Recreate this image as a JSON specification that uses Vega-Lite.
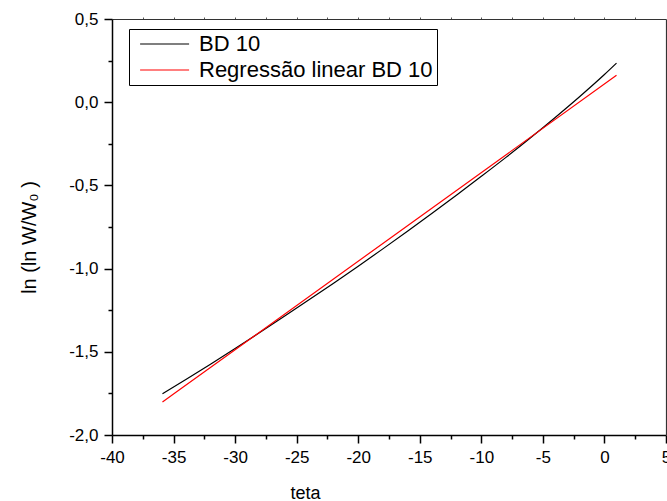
{
  "$schema": "https://vega.github.io/schema/vega-lite/v6.json",
  "width": 554,
  "height": 416,
  "autosize": "none",
  "padding": {"left": 112, "top": 19, "right": 1, "bottom": 66},
  "background": "white",
  "config": {
    "view": {"stroke": null},
    "font": "Liberation Sans",
    "axis": {
      "grid": false,
      "domainColor": "#000000",
      "tickColor": "#000000",
      "labelColor": "#000000",
      "titleColor": "#000000",
      "labelFont": "Liberation Sans",
      "titleFont": "Liberation Sans",
      "labelFontSize": 17,
      "titleFontSize": 18,
      "titleFontWeight": "normal"
    },
    "legend": {
      "labelFont": "Liberation Sans"
    }
  },
  "datasets": {
    "curves": [
      {"teta": -35.9, "lnln": -1.752, "serie": "BD 10"},
      {"teta": -34, "lnln": -1.6665, "serie": "BD 10"},
      {"teta": -32, "lnln": -1.5745, "serie": "BD 10"},
      {"teta": -30, "lnln": -1.4805, "serie": "BD 10"},
      {"teta": -28, "lnln": -1.3845, "serie": "BD 10"},
      {"teta": -26, "lnln": -1.2865, "serie": "BD 10"},
      {"teta": -24, "lnln": -1.1875, "serie": "BD 10"},
      {"teta": -22, "lnln": -1.0875, "serie": "BD 10"},
      {"teta": -20, "lnln": -0.9855, "serie": "BD 10"},
      {"teta": -18, "lnln": -0.8815, "serie": "BD 10"},
      {"teta": -16, "lnln": -0.7755, "serie": "BD 10"},
      {"teta": -14, "lnln": -0.6675, "serie": "BD 10"},
      {"teta": -12, "lnln": -0.5575, "serie": "BD 10"},
      {"teta": -10, "lnln": -0.4455, "serie": "BD 10"},
      {"teta": -8, "lnln": -0.3315, "serie": "BD 10"},
      {"teta": -6, "lnln": -0.2135, "serie": "BD 10"},
      {"teta": -4, "lnln": -0.0915, "serie": "BD 10"},
      {"teta": -2, "lnln": 0.0345, "serie": "BD 10"},
      {"teta": 0, "lnln": 0.1665, "serie": "BD 10"},
      {"teta": 0.98, "lnln": 0.235, "serie": "BD 10"},
      {"teta": -35.9, "lnln": -1.802, "serie": "Regressão linear BD 10"},
      {"teta": -18, "lnln": -0.849, "serie": "Regressão linear BD 10"},
      {"teta": 0.98, "lnln": 0.162, "serie": "Regressão linear BD 10"}
    ]
  },
  "data": {"name": "curves"},
  "resolve": {"axis": {"x": "independent", "y": "independent"}},
  "layer": [
    {
      "mark": {"type": "line", "strokeWidth": 1.2, "interpolate": "monotone"},
      "encoding": {
        "x": {
          "field": "teta", "type": "quantitative",
          "scale": {"domain": [-40, 5], "nice": false, "zero": false},
          "axis": {
            "orient": "bottom",
            "values": [-40, -35, -30, -25, -20, -15, -10, -5, 0, 5],
            "labelExpr": "(datum.value < 0 ? '-' : '') + format(abs(datum.value), 'd')",
            "tickSize": 8,
            "tickWidth": 1.5,
            "domainWidth": 1.5,
            "labelPadding": 6,
            "labelFlush": false,
            "labelOverlap": false,
            "title": "teta",
            "titleX": 193,
            "titleY": 63,
            "titleAlign": "center",
            "titleBaseline": "alphabetic"
          }
        },
        "y": {
          "field": "lnln", "type": "quantitative",
          "scale": {"domain": [-2, 0.5], "nice": false, "zero": false},
          "axis": {
            "orient": "left",
            "values": [-2, -1.5, -1, -0.5, 0, 0.5],
            "labelExpr": "(datum.value < 0 ? '-' : '') + replace(format(abs(datum.value), '.1f'), '.', ',')",
            "tickSize": 8,
            "tickWidth": 1.5,
            "domainWidth": 1.5,
            "labelPadding": 6,
            "labelFlush": false,
            "labelOverlap": false,
            "title": "ln (ln W/W₀ )",
            "titleFontSize": 20,
            "titleX": -83,
            "titleY": 218,
            "titleAngle": -90,
            "titleAlign": "center",
            "titleBaseline": "middle"
          }
        },
        "color": {
          "field": "serie", "type": "nominal",
          "scale": {"domain": ["BD 10", "Regressão linear BD 10"], "range": ["#000000", "#ff0000"]},
          "legend": {
            "title": null,
            "orient": "none",
            "legendX": 17,
            "legendY": 10,
            "strokeColor": "#000000",
            "fillColor": "#ffffff",
            "padding": 4,
            "cornerRadius": 0,
            "symbolType": "M-1,0H9",
            "symbolSize": 96,
            "symbolStrokeWidth": 1.2,
            "symbolOffset": 1,
            "labelFontSize": 22,
            "labelOffset": 43,
            "labelLimit": 0,
            "rowPadding": 4,
            "labelColor": "#000000"
          }
        }
      }
    },
    {
      "mark": {"type": "point", "opacity": 0},
      "encoding": {
        "x": {
          "field": "teta", "type": "quantitative",
          "axis": {
            "orient": "bottom",
            "values": [-37.5, -32.5, -27.5, -22.5, -17.5, -12.5, -7.5, -2.5, 2.5],
            "tickSize": 4,
            "tickWidth": 1.5,
            "labels": false,
            "domain": false,
            "title": null
          }
        },
        "y": {
          "field": "lnln", "type": "quantitative",
          "axis": {
            "orient": "left",
            "values": [-1.75, -1.25, -0.75, -0.25, 0.25],
            "tickSize": 4,
            "tickWidth": 1.5,
            "labels": false,
            "domain": false,
            "title": null
          }
        }
      }
    },
    {
      "mark": {"type": "point", "opacity": 0},
      "encoding": {
        "x": {
          "field": "teta", "type": "quantitative",
          "axis": {
            "orient": "top",
            "values": [-37.5, -35, -32.5, -30, -27.5, -25, -22.5, -20, -17.5, -15, -12.5, -10, -7.5, -5, -2.5, 0, 2.5],
            "tickSize": 2,
            "tickWidth": 1,
            "labels": false,
            "domainWidth": 1.2,
            "domainColor": "#333333",
            "tickColor": "#555555",
            "title": null
          }
        },
        "y": {
          "field": "lnln", "type": "quantitative",
          "axis": {
            "orient": "right",
            "ticks": false,
            "labels": false,
            "domainWidth": 1.2,
            "domainColor": "#333333",
            "title": null
          }
        }
      }
    }
  ]
}
